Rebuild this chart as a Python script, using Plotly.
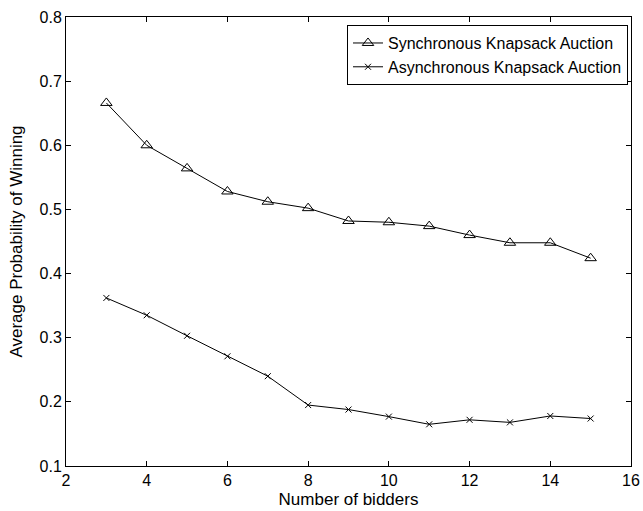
import plotly.graph_objects as go

bidders = [3, 4, 5, 6, 7, 8, 9, 10, 11, 12, 13, 14, 15]
sync_vals = [0.666, 0.600, 0.564, 0.528, 0.512, 0.502, 0.482, 0.480, 0.474, 0.460, 0.448, 0.448, 0.424]
async_vals = [0.362, 0.335, 0.303, 0.271, 0.240, 0.195, 0.188, 0.177, 0.165, 0.172, 0.168, 0.178, 0.174]
x_ticks = [2, 4, 6, 8, 10, 12, 14, 16]
y_ticks = [0.1, 0.2, 0.3, 0.4, 0.5, 0.6, 0.7, 0.8]

FONT = "Liberation Sans, Arial, Helvetica, sans-serif"
FS = 16
TS = 17

fig = go.Figure()
fig.add_trace(go.Scatter(
    x=bidders, y=sync_vals, mode="lines+markers",
    name="Synchronous Knapsack Auction",
    line=dict(color="black", width=1),
    marker=dict(symbol="triangle-up-open", size=10, color="black", line=dict(width=1)),
))
fig.add_trace(go.Scatter(
    x=bidders, y=async_vals, mode="lines+markers",
    name="Asynchronous Knapsack Auction",
    line=dict(color="black", width=1),
    marker=dict(symbol="x-thin-open", size=6, color="black", line=dict(width=1, color="black")),
))

axis_common = dict(
    showline=True, linecolor="black", linewidth=1, mirror="ticks",
    ticks="inside", ticklen=5, tickcolor="black", showgrid=False, zeroline=False,
    tickfont=dict(family=FONT, size=FS, color="black"),
    automargin=False,
)
fig.update_xaxes(range=[2, 16], tickvals=x_ticks, ticktext=[str(v) for v in x_ticks],
                 title=dict(text="Number of bidders", font=dict(family=FONT, size=TS, color="black"), standoff=4),
                 **axis_common)
fig.update_yaxes(range=[0.1, 0.8], tickvals=y_ticks, ticktext=[f"{v:.1f}" for v in y_ticks],
                 title=dict(text="Average Probability of Winning", font=dict(family=FONT, size=TS, color="black"), standoff=12),
                 **axis_common)

fig.update_layout(
    width=643, height=511,
    margin=dict(l=66, r=12, t=17, b=45),
    plot_bgcolor="white", paper_bgcolor="white",
    font=dict(family=FONT, size=FS, color="black"),
    legend=dict(x=0.9947, y=0.982, xanchor="right", yanchor="top",
                bordercolor="black", borderwidth=1, bgcolor="white",
                font=dict(family=FONT, size=FS, color="black"),
                tracegroupgap=0, itemwidth=30),
    showlegend=True,
)

fig.write_html("out.html",
               config={"displayModeBar": False},
               post_script="document.body.style.margin='0px';document.body.style.overflow='hidden';")
